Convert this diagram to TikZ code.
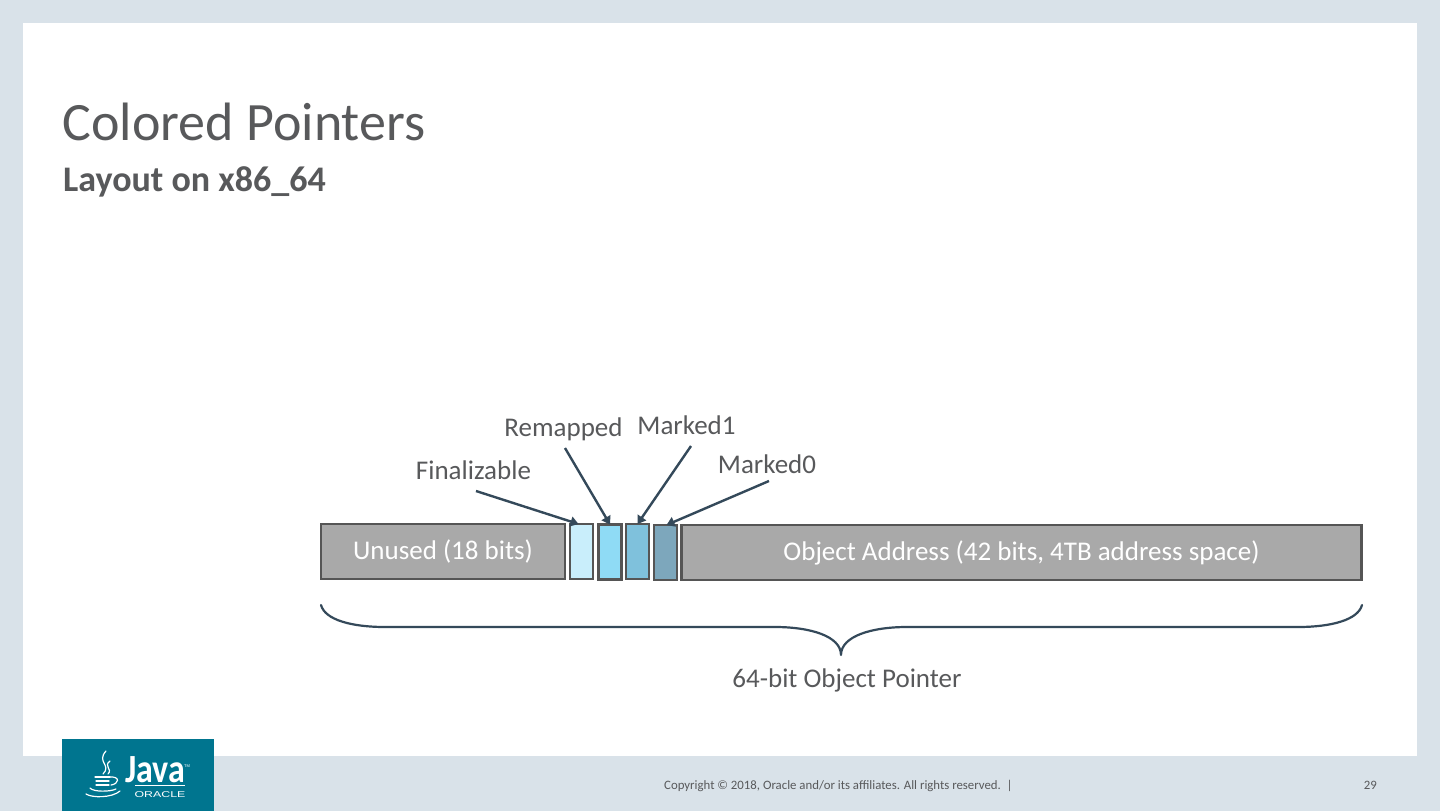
\documentclass[tikz,border=0pt]{standalone}
\usepackage{fontspec}
\setmainfont{Carlito}
\newfontfamily\logofont{Liberation Sans}
\usetikzlibrary{arrows.meta}
\definecolor{pagebg}{HTML}{D9E2E9}
\definecolor{ink}{HTML}{58595B}
\definecolor{line}{HTML}{34495A}
\definecolor{boxgray}{HTML}{A9A9A9}
\definecolor{boxedge}{HTML}{555555}
\definecolor{teal}{HTML}{00758F}
\definecolor{bitone}{HTML}{C9EEFB}
\definecolor{bittwo}{HTML}{8FDBF5}
\definecolor{bitthree}{HTML}{7FC1DC}
\definecolor{bitfour}{HTML}{7DA7BC}
\tikzset{
  x=1pt,y=-1pt,
  bitbox/.style={draw=boxedge,line width=2.4pt,outer sep=0pt,minimum height=55pt,inner sep=0pt,anchor=north west,text=white,font=\fontsize{27}{30}\selectfont},
  lbl/.style={text=ink,font=\fontsize{27}{30}\selectfont,inner sep=0pt},
  ptr/.style={draw=line,line width=2.4pt,-{Triangle[length=8pt,width=10pt]}},
  logoline/.style={draw=white,line width=1.2pt,line cap=round}
}
\begin{document}
\begin{tikzpicture}
\useasboundingbox (0,0) rectangle (1440,811);
\fill[pagebg] (0,0) rectangle (1440,811);
\fill[white] (23,23) rectangle (1417,756);
\node[anchor=base west,inner sep=0pt,text=ink,font=\fontsize{54}{60}\selectfont] (title) at (62.5,140) {Colored Pointers};
\node[anchor=base west,inner sep=0pt,text=ink,font=\bfseries\fontsize{36}{42}\selectfont] (sub) at (63,191) {Layout on x86\_64};

\node[bitbox,fill=boxgray,minimum width=244pt] (unused) at (321,524) {Unused (18 bits)};
\node[bitbox,fill=boxgray,minimum width=680pt] (addr) at (681.5,525) {Object Address (42 bits, 4TB address space)};
\node[bitbox,fill=bitone,minimum width=23pt,line width=1.8pt] (b1) at (570,524) {};
\node[bitbox,fill=bittwo,minimum width=23pt] (b2) at (598.5,524.5) {};
\node[bitbox,fill=bitthree,minimum width=23pt] (b3) at (626,524) {};
\node[bitbox,fill=bitfour,minimum width=23pt] (b4) at (654,525) {};

\node[lbl,anchor=base] (lf) at (473.5,479) {Finalizable};
\node[lbl,anchor=base] (lr) at (563.5,436) {Remapped};
\node[lbl,anchor=base] (lm1) at (686.5,434) {Marked1};
\node[lbl,anchor=base] (lm0) at (767,473) {Marked0};
\coordinate (sf) at (476,491);
\coordinate (sr) at (565,448);
\coordinate (sm1) at (691,446);
\coordinate (sm0) at (769,481);
\draw[ptr] (sf) -- ([xshift=-3pt]b1.north);
\draw[ptr] (sr) -- (b2.north);
\draw[ptr] (sm1) -- (b3.north);
\draw[ptr] (sm0) -- ([xshift=1pt]b4.north);

\coordinate (bl) at (321,605);
\coordinate (br) at (1362,605);
\coordinate (btip) at (841,655);
\draw[line,line width=2.2pt,line cap=round,line join=round]
  (bl) .. controls (325,620) and (352,627) .. (385,627)
  -- (775,627) .. controls (810,627) and (841,636) .. (btip)
  .. controls (841,636) and (872,627) .. (907,627)
  -- (1298,627) .. controls (1331,627) and (1358,620) .. (br);
\node[lbl,anchor=base] (total) at (847,687) {64-bit Object Pointer};

\fill[teal] (62,739) rectangle (214,811);
\node[anchor=base west,inner sep=0pt,text=white,xscale=.85,font=\bfseries\fontsize{40}{42}\selectfont] (java) at (125,782) {Java};
\node[anchor=base west,inner sep=0pt,text=white,font=\logofont\fontsize{4}{5}\selectfont] (tm) at (184,767) {TM};
\node[anchor=base,inner sep=0pt,text=white,xscale=1.45,font=\logofont\fontsize{8.5}{9}\selectfont] (oracle) at (160,797.5) {ORACLE};
\draw[white,line width=.5pt] (135,785.5) -- (185,785.5);
\draw[logoline] (106,751) .. controls (96,762) and (112,765) .. (103,774);
\draw[logoline] (110,761) .. controls (103,766) and (113,769) .. (108,774);
\draw[logoline] (95,777) -- (110,777) (96,781) -- (109,781) (96,785) -- (109,785);
\draw[logoline] (109,777) .. controls (121,776) and (119,784) .. (111,785);
\draw[logoline] (90,788) .. controls (93,792) and (110,792) .. (116,789);
\draw[logoline] (86,794) .. controls (92,798) and (112,798) .. (120,791);

\node[anchor=base west,inner sep=0pt,text=ink,font=\fontsize{12.8}{14}\selectfont] (copy) at (664,789) {Copyright © 2018, Oracle and/or its affiliates. All rights reserved.\ \ |};
\node[anchor=base east,inner sep=0pt,text=ink,font=\fontsize{12.8}{14}\selectfont] (page) at (1377,789) {29};
\end{tikzpicture}
\end{document}
